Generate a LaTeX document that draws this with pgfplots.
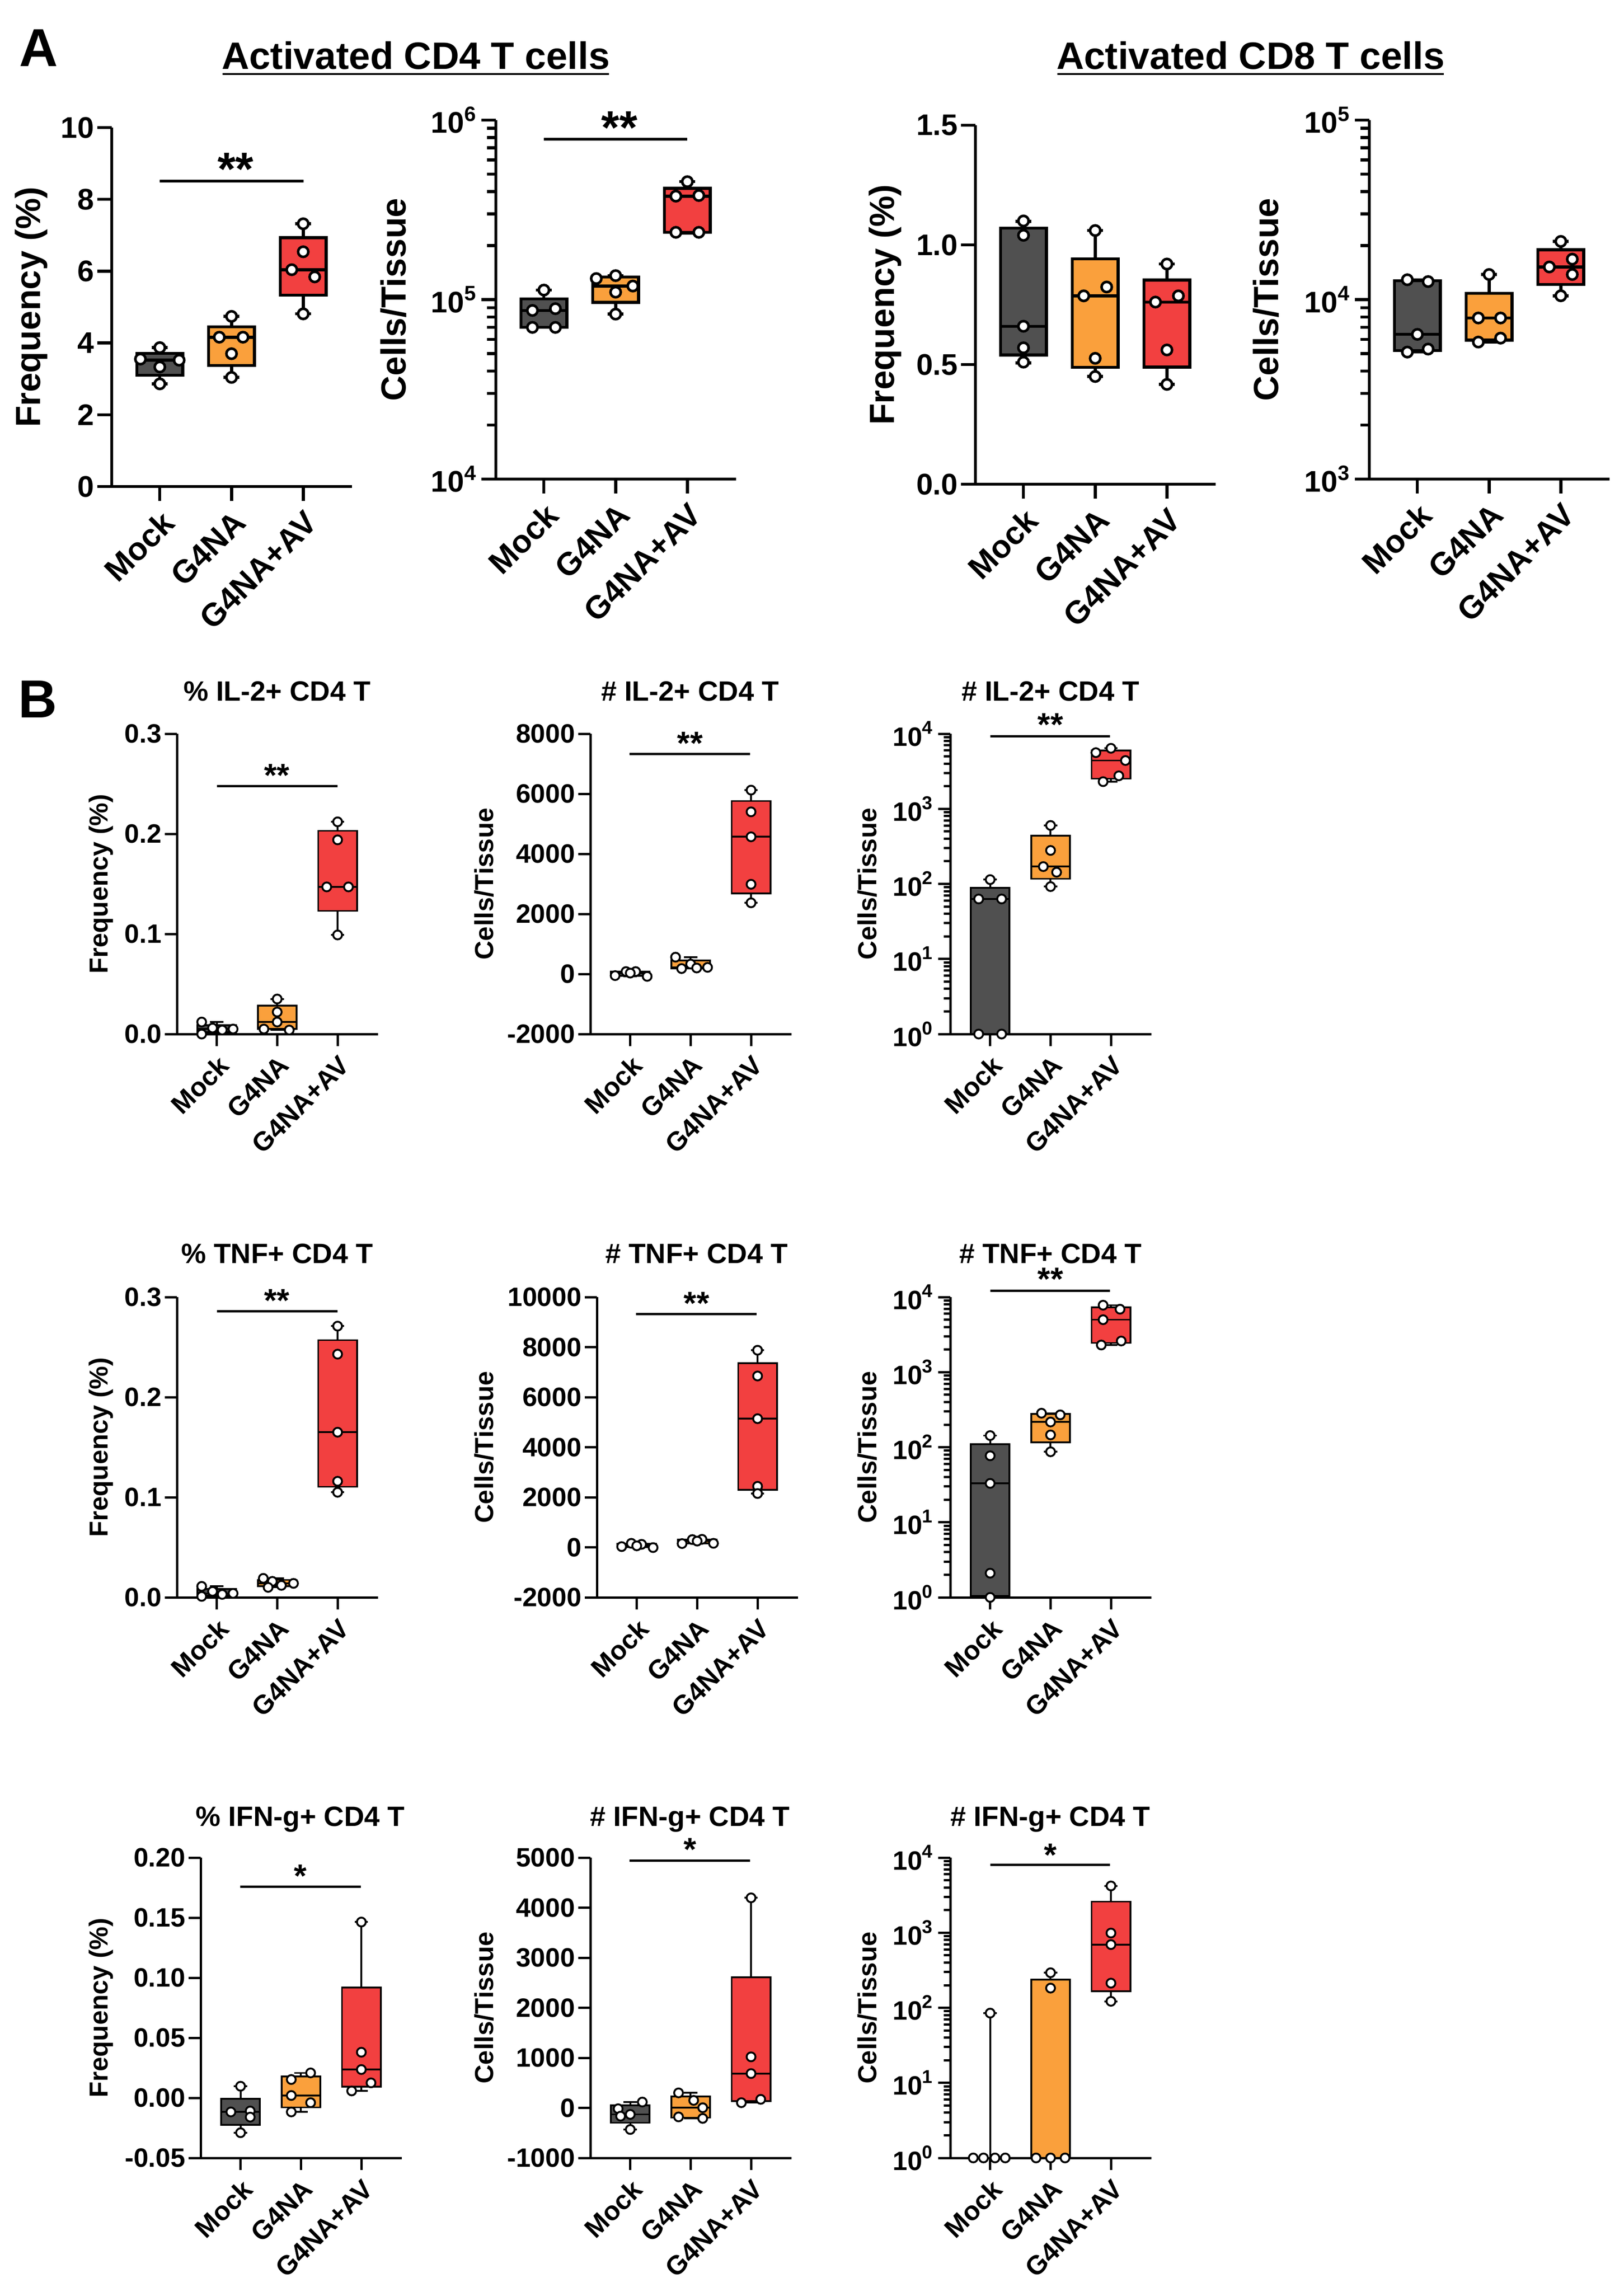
\documentclass[border=0pt]{standalone}
\usepackage{fontspec}
\setmainfont{Liberation Sans}
\usepackage{pgfplots}
\pgfplotsset{compat=1.18}

\definecolor{cmock}{RGB}{80,80,80}
\definecolor{cg}{RGB}{250,160,60}
\definecolor{cav}{RGB}{242,64,64}
\newcommand\fs[1]{\fontsize{#1}{#1}\selectfont\bfseries}

% box: pos, colour, lower whisker, q1, median, q3, upper whisker
\newcommand\bx[7]{%
  \pgfmathsetmacro\xa{#1-0.32}\pgfmathsetmacro\xb{#1+0.32}%
  \pgfmathsetmacro\xc{#1-0.11}\pgfmathsetmacro\xd{#1+0.11}%
  \edef\tmp{%
    \noexpand\addplot[bl] coordinates {(#1,#3) (#1,#7)};
    \noexpand\addplot[bl] coordinates {(\xc,#3) (\xd,#3)};
    \noexpand\addplot[bl] coordinates {(\xc,#7) (\xd,#7)};
    \noexpand\addplot[bl,fill=#2] coordinates {(\xa,#4) (\xb,#4) (\xb,#6) (\xa,#6)} -- cycle;
    \noexpand\addplot[bl] coordinates {(\xa,#5) (\xb,#5)};
  }\tmp}
\newcommand\pts[1]{\addplot[pt] coordinates {#1};}

\pgfplotsset{
  ax/.style={scale only axis, anchor=south west, clip=false,
    axis x line*=bottom, axis y line*=left, axis line style={-},
    tick align=outside, xtick={1,2,3}, xticklabels={Mock,G4NA,G4NA+AV},
    xmin=0.33, xmax=3.68, tick style={black}, scaled y ticks=false,
    /pgf/number format/assume math mode=true,
    xticklabel style={rotate=45, anchor=north east, inner sep=1pt},
    yticklabel style={inner sep=0.5pt},
    ylabel style={anchor=center}},
  pa/.style={ax, width=51.6pt, height=77.1pt,
    axis line style={line width=0.65pt}, tick style={line width=0.65pt},
    major tick length=3.1pt, minor tick length=1.9pt,
    xticklabel style={font=\fs{6.9}}, yticklabel style={font=\fs{6.4}},
    ylabel style={font=\fs{7.5}},
    bl/.style={draw=black, line width=0.65pt},
    pt/.style={only marks, mark=*, mark size=1.1pt,
      mark options={fill=white, draw=black, line width=0.55pt}}},
  pb/.style={ax, width=43.2pt, height=64.5pt, xmin=0.34, xmax=3.67,
    axis line style={line width=0.5pt}, tick style={line width=0.5pt},
    major tick length=2.6pt, minor tick length=1.4pt,
    xticklabel style={font=\fs{5.7}}, yticklabel style={font=\fs{5.7}},
    ylabel style={font=\fs{5.6}},
    bl/.style={draw=black, line width=0.38pt},
    pt/.style={only marks, mark=*, mark size=0.95pt,
      mark options={fill=white, draw=black, line width=0.4pt}}},
  lgB/.style={ymin=1, ymax=1e4, ytick={1,10,100,1000,10000},
    yticklabels={10\textsuperscript{0},10\textsuperscript{1},10\textsuperscript{2},10\textsuperscript{3},10\textsuperscript{4}},
    minor ytick={2,3,4,5,6,7,8,9,20,30,40,50,60,70,80,90,200,300,400,500,600,700,800,900,2000,3000,4000,5000,6000,7000,8000,9000},
    ylabel={Cells/Tissue}, ylabel style={at={(axis description cs:-0.413,0.5)}}},
}

\begin{document}
\begin{tikzpicture}
\useasboundingbox (0pt,0pt) rectangle (348.7pt,-492.3pt);

% ---------------- panel A ----------------
\begin{axis}[pa, at={(24.0pt,-104.5pt)}, ymin=0, ymax=10, ytick={0,2,4,6,8,10},
  ylabel={Frequency (\%)}, ylabel style={at={(axis description cs:-0.335,0.5)}}]
  \bx{1}{cmock}{2.86}{3.10}{3.52}{3.71}{3.87}
  \bx{2}{cg}{3.04}{3.37}{4.16}{4.45}{4.74}
  \bx{3}{cav}{4.81}{5.33}{6.04}{6.93}{7.32}
  \pts{(1,3.87) (0.73,3.55) (1.27,3.52) (1,3.33) (1,2.86)}
  \pts{(2,4.74) (1.83,4.16) (2.16,4.16) (2,3.70) (2,3.04)}
  \pts{(3,7.32) (3,6.54) (2.84,6.04) (3.16,5.84) (3,4.81)}
\end{axis}

\begin{axis}[pa, ymode=log, at={(106.5pt,-102.9pt)}, ymin=1e4, ymax=1e6, ytick={1e4,1e5,1e6},
  yticklabels={10\textsuperscript{4},10\textsuperscript{5},10\textsuperscript{6}},
  minor ytick={2e4,3e4,4e4,5e4,6e4,7e4,8e4,9e4,2e5,3e5,4e5,5e5,6e5,7e5,8e5,9e5},
  ylabel={Cells/Tissue}, ylabel style={at={(axis description cs:-0.427,0.5)}}]
  \bx{1}{cmock}{7.0e4}{7.0e4}{8.7e4}{1.01e5}{1.13e5}
  \bx{2}{cg}{8.3e4}{9.65e4}{1.19e5}{1.335e5}{1.36e5}
  \bx{3}{cav}{2.35e5}{2.37e5}{3.77e5}{4.17e5}{4.54e5}
  \pts{(1,1.13e5) (0.84,8.7e4) (1.16,8.9e4) (0.84,7.0e4) (1.16,7.0e4)}
  \pts{(1.73,1.31e5) (2,1.36e5) (2.24,1.19e5) (2,1.10e5) (2,8.3e4)}
  \pts{(3,4.54e5) (2.84,3.77e5) (3.16,3.80e5) (2.84,2.37e5) (3.16,2.37e5)}
\end{axis}

\begin{axis}[pa, at={(209.5pt,-104.0pt)}, ymin=0, ymax=1.5, ytick={0,0.5,1,1.5},
  yticklabels={0.0,0.5,1.0,1.5},
  ylabel={Frequency (\%)}, ylabel style={at={(axis description cs:-0.375,0.5)}}]
  \bx{1}{cmock}{0.507}{0.54}{0.66}{1.07}{1.098}
  \bx{2}{cg}{0.45}{0.488}{0.787}{0.942}{1.06}
  \bx{3}{cav}{0.417}{0.489}{0.761}{0.853}{0.92}
  \pts{(1,1.10) (1,1.04) (1,0.66) (1,0.57) (1,0.51)}
  \pts{(2,1.06) (2.16,0.824) (1.84,0.787) (2,0.526) (2,0.45)}
  \pts{(3,0.92) (3.16,0.787) (2.84,0.761) (3,0.561) (3,0.417)}
\end{axis}

\begin{axis}[pa, ymode=log, at={(294.1pt,-102.9pt)}, ymin=1e3, ymax=1e5, ytick={1e3,1e4,1e5},
  yticklabels={10\textsuperscript{3},10\textsuperscript{4},10\textsuperscript{5}},
  minor ytick={2e3,3e3,4e3,5e3,6e3,7e3,8e3,9e3,2e4,3e4,4e4,5e4,6e4,7e4,8e4,9e4},
  ylabel={Cells/Tissue}, ylabel style={at={(axis description cs:-0.43,0.5)}}]
  \bx{1}{cmock}{5.1e3}{5.2e3}{6.4e3}{1.275e4}{1.29e4}
  \bx{2}{cg}{5.8e3}{5.95e3}{7.9e3}{1.085e4}{1.38e4}
  \bx{3}{cav}{1.05e4}{1.215e4}{1.52e4}{1.895e4}{2.11e4}
  \pts{(0.86,1.29e4) (1.15,1.26e4) (1,6.4e3) (0.86,5.1e3) (1.15,5.3e3)}
  \pts{(2,1.38e4) (1.85,7.9e3) (2.16,7.9e3) (1.85,5.8e3) (2.16,6.1e3)}
  \pts{(3,2.11e4) (2.84,1.52e4) (3.16,1.68e4) (3.16,1.38e4) (3,1.05e4)}
\end{axis}

% ---------------- panel B, row 1 (IL-2) ----------------
\begin{axis}[pb, at={(38.0pt,-222.1pt)}, ymin=0, ymax=0.3, ytick={0,0.1,0.2,0.3},
  yticklabels={0.0,0.1,0.2,0.3},
  ylabel={Frequency (\%)}, ylabel style={at={(axis description cs:-0.377,0.5)}}]
  \bx{1}{cmock}{0}{0.002}{0.005}{0.009}{0.012}
  \bx{2}{cg}{0.004}{0.005}{0.012}{0.0285}{0.035}
  \bx{3}{cav}{0.099}{0.123}{0.147}{0.203}{0.212}
  \pts{(0.75,0.012) (0.75,0) (0.93,0.006) (1.09,0.004) (1.27,0.005)}
  \pts{(2,0.035) (2,0.022) (2,0.012) (1.78,0.005) (2.2,0.004)}
  \pts{(3,0.212) (3,0.194) (2.82,0.147) (3.18,0.147) (3,0.099)}
\end{axis}

\begin{axis}[pb, at={(126.8pt,-222.1pt)}, ymin=-2000, ymax=8000,
  ytick={-2000,0,2000,4000,6000,8000}, yticklabels={-2000,0,2000,4000,6000,8000},
  ylabel={Cells/Tissue}, ylabel style={at={(axis description cs:-0.529,0.5)}}]
  \bx{1}{cmock}{-80}{-67}{30}{80}{80}
  \bx{2}{cg}{180}{190}{220}{445}{560}
  \bx{3}{cav}{2370}{2679}{4568}{5761}{6123}
  \pts{(0.75,-54) (0.93,80) (1.09,80) (1.28,-80) (1,30)}
  \pts{(1.75,560) (1.85,180) (2.0,330) (2.1,200) (2.28,220)}
  \pts{(3,6123) (3,5399) (3,4568) (3,2987) (3,2370)}
\end{axis}

\begin{axis}[pb, lgB, ymode=log, at={(204.1pt,-222.1pt)}]
  \bx{1}{cmock}{1}{1}{63}{88.5}{114}
  \bx{2}{cg}{92}{117}{170}{440}{600}
  \bx{3}{cav}{2300}{2525}{4400}{6000}{6400}
  \pts{(1,114) (0.81,63) (1.19,63) (0.81,1) (1.19,1)}
  \pts{(2,600) (2,279) (1.88,170) (2.1,143) (2,92)}
  \pts{(3,6400) (2.75,5600) (3.24,4400) (2.87,2300) (3.13,2750)}
\end{axis}

% ---------------- panel B, row 2 (TNF) ----------------
\begin{axis}[pb, at={(38.0pt,-343.1pt)}, ymin=0, ymax=0.3, ytick={0,0.1,0.2,0.3},
  yticklabels={0.0,0.1,0.2,0.3},
  ylabel={Frequency (\%)}, ylabel style={at={(axis description cs:-0.377,0.5)}}]
  \bx{1}{cmock}{0.001}{0.002}{0.004}{0.0085}{0.011}
  \bx{2}{cg}{0.010}{0.011}{0.014}{0.0175}{0.019}
  \bx{3}{cav}{0.105}{0.1105}{0.165}{0.257}{0.271}
  \pts{(0.75,0.011) (0.75,0.001) (0.93,0.006) (1.09,0.003) (1.27,0.004)}
  \pts{(1.77,0.019) (1.92,0.016) (2.07,0.012) (2.27,0.014) (1.85,0.010)}
  \pts{(3,0.271) (3,0.243) (3,0.165) (3,0.116) (3,0.105)}
\end{axis}

\begin{axis}[pb, at={(128.2pt,-343.1pt)}, ymin=-2000, ymax=10000,
  ytick={-2000,0,2000,4000,6000,8000,10000}, yticklabels={-2000,0,2000,4000,6000,8000,10000},
  ylabel={Cells/Tissue}, ylabel style={at={(axis description cs:-0.56,0.5)}}]
  \bx{1}{cmock}{-10}{10}{60}{140}{160}
  \bx{2}{cg}{150}{155}{250}{315}{320}
  \bx{3}{cav}{2150}{2295}{5141}{7361}{7876}
  \pts{(0.75,30) (0.91,160) (1.08,120) (1.27,-10) (1.0,60)}
  \pts{(1.75,150) (1.92,310) (2.08,320) (2.27,160) (2.0,250)}
  \pts{(3,7876) (3,6847) (3,5141) (3,2439) (3,2150)}
\end{axis}

\begin{axis}[pb, lgB, ymode=log, at={(204.1pt,-343.1pt)}]
  \bx{1}{cmock}{1}{1.05}{33}{110}{143}
  \bx{2}{cg}{87}{116}{217}{277}{284}
  \bx{3}{cav}{2300}{2450}{5000}{7350}{7800}
  \pts{(1,143) (1,77) (1,33) (1,2.1) (1,1)}
  \pts{(1.85,284) (2.16,270) (2,217) (2,146) (2,87)}
  \pts{(2.87,7800) (3.15,6900) (2.87,5000) (2.84,2300) (3.17,2600)}
\end{axis}

% ---------------- panel B, row 3 (IFN-g) ----------------
\begin{axis}[pb, at={(43.1pt,-463.5pt)}, ymin=-0.05, ymax=0.2,
  ytick={-0.05,0,0.05,0.1,0.15,0.2}, yticklabels={-0.05,0.00,0.05,0.10,0.15,0.20},
  ylabel={Frequency (\%)}, ylabel style={at={(axis description cs:-0.495,0.5)}}]
  \bx{1}{cmock}{-0.029}{-0.0225}{-0.0117}{-0.0006}{0.0097}
  \bx{2}{cg}{-0.0117}{-0.0079}{0.002}{0.018}{0.0208}
  \bx{3}{cav}{0.0058}{0.0092}{0.0236}{0.092}{0.1464}
  \pts{(1,0.0097) (1.16,-0.0109) (0.84,-0.0117) (1.16,-0.016) (1,-0.029)}
  \pts{(2.16,0.0208) (1.84,0.0153) (1.84,0.002) (2.16,-0.004) (1.84,-0.0117)}
  \pts{(3,0.1464) (3,0.038) (3,0.0236) (2.84,0.0058) (3.16,0.0125)}
\end{axis}

\begin{axis}[pb, at={(126.8pt,-463.5pt)}, ymin=-1000, ymax=5000,
  ytick={-1000,0,1000,2000,3000,4000,5000}, yticklabels={-1000,0,1000,2000,3000,4000,5000},
  ylabel={Cells/Tissue}, ylabel style={at={(axis description cs:-0.529,0.5)}}]
  \bx{1}{cmock}{-431}{-298}{-130}{50}{117}
  \bx{2}{cg}{-210}{-195}{3}{225}{300}
  \bx{3}{cav}{104}{137}{686}{2608}{4197}
  \pts{(1.2,117) (0.8,-17) (1,-130) (0.84,-165) (1,-431)}
  \pts{(1.8,300) (2.05,150) (2.2,3) (1.8,-180) (2.2,-210)}
  \pts{(3,4197) (3,1020) (3,686) (2.84,104) (3.16,171)}
\end{axis}

\begin{axis}[pb, lgB, ymode=log, at={(204.1pt,-463.5pt)}]
  \bx{1}{cmock}{1}{1}{1}{1}{85}
  \bx{2}{cg}{1}{1}{1}{238}{293}
  \bx{3}{cav}{122}{167}{695}{2595}{4200}
  \pts{(0.72,1) (0.89,1) (1.08,1) (1.25,1) (1,85)}
  \pts{(2,293) (2,183) (1.76,1) (2,1) (2.24,1)}
  \pts{(3,4200) (3,990) (3,695) (3,213) (3,122)}
\end{axis}

% ---------------- titles and annotations ----------------
\node[anchor=base west, inner sep=0pt, font=\fs{11.5}] at (3.9pt,-14.3pt) {A};
\node[anchor=base west, inner sep=0pt, font=\fs{11.5}] at (3.8pt,-154.1pt) {B};

\node[anchor=base, inner sep=0pt, font=\fs{8.2}] at (89.3pt,-14.9pt) {Activated CD4 T cells};
\draw[line width=0.34pt] (47.8pt,-15.9pt) -- (130.8pt,-15.9pt);
\node[anchor=base, inner sep=0pt, font=\fs{8.2}] at (268.6pt,-14.9pt) {Activated CD8 T cells};
\draw[line width=0.34pt] (227.1pt,-15.9pt) -- (310.1pt,-15.9pt);

\begin{scope}[every node/.style={anchor=base, inner sep=0pt, font=\fs{6.0}}]
  \node at (59.5pt,-150.5pt) {\% IL-2+ CD4 T};
  \node at (148.2pt,-150.5pt) {\# IL-2+ CD4 T};
  \node at (225.6pt,-150.5pt) {\# IL-2+ CD4 T};
  \node at (59.5pt,-271.3pt) {\% TNF+ CD4 T};
  \node at (149.6pt,-271.3pt) {\# TNF+ CD4 T};
  \node at (225.6pt,-271.3pt) {\# TNF+ CD4 T};
  \node at (64.5pt,-392.2pt) {\% IFN-g+ CD4 T};
  \node at (148.2pt,-392.2pt) {\# IFN-g+ CD4 T};
  \node at (225.6pt,-392.2pt) {\# IFN-g+ CD4 T};
\end{scope}

% significance bars
\draw[line width=0.55pt] (34.3pt,-38.9pt) -- (65.2pt,-38.9pt);
\draw[line width=0.55pt] (116.8pt,-29.9pt) -- (147.6pt,-29.9pt);
\node[anchor=base, inner sep=0pt, font=\fs{10}] at (50.6pt,-39.75pt) {**};
\node[anchor=base, inner sep=0pt, font=\fs{10}] at (133.0pt,-30.85pt) {**};

\begin{scope}[line width=0.5pt]
  \draw (46.6pt,-168.8pt) -- (72.5pt,-168.8pt);
  \draw (135.2pt,-161.9pt) -- (161.1pt,-161.9pt);
  \draw (212.7pt,-158.1pt) -- (238.4pt,-158.1pt);
  \draw (46.6pt,-281.6pt) -- (72.5pt,-281.6pt);
  \draw (136.6pt,-282.2pt) -- (162.5pt,-282.2pt);
  \draw (212.7pt,-277.2pt) -- (238.4pt,-277.2pt);
  \draw (51.6pt,-405.2pt) -- (77.5pt,-405.2pt);
  \draw (135.2pt,-399.6pt) -- (161.1pt,-399.6pt);
  \draw (212.7pt,-400.5pt) -- (238.4pt,-400.5pt);
\end{scope}
\begin{scope}[every node/.style={anchor=base, inner sep=0pt, font=\fs{7}}]
  \node at (59.5pt,-168.96pt) {**};
  \node at (148.2pt,-162.06pt) {**};
  \node at (225.6pt,-158.06pt) {**};
  \node at (59.5pt,-281.76pt) {**};
  \node at (149.6pt,-282.36pt) {**};
  \node at (225.6pt,-277.16pt) {**};
  \node at (64.5pt,-405.36pt) {*};
  \node at (148.2pt,-399.66pt) {*};
  \node at (225.6pt,-400.86pt) {*};
\end{scope}
\end{tikzpicture}
\end{document}
